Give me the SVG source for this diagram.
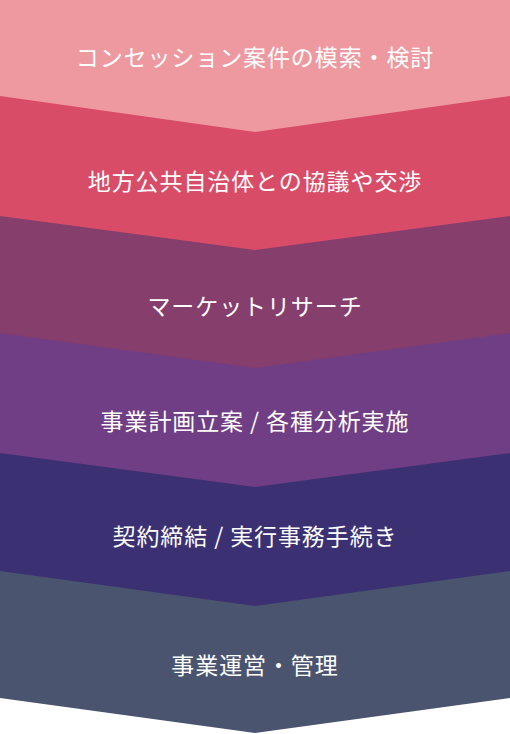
<svg xmlns="http://www.w3.org/2000/svg" width="510" height="734" viewBox="0 0 510 734">
<style>
  .label { font-family: "Noto Sans CJK JP", "Noto Sans", sans-serif; font-size: 23px; fill: #ffffff; text-anchor: middle; letter-spacing: 0.9px; }
</style>
<rect width="510" height="734" fill="#ffffff"/>
<g id="step6">
  <polygon points="0,570 510,570 510,698 255,733 0,698" fill="#4a546e"/>
  <text class="label" x="255" y="674">事業運営・管理</text>
</g>
<g id="step5">
  <polygon points="0,452 510,452 510,571 255,606 0,571" fill="#3b3172"/>
  <text class="label" x="255" y="545">契約締結 / 実行事務手続き</text>
</g>
<g id="step4">
  <polygon points="0,333 510,333 510,453 255,487 0,453" fill="#703e84"/>
  <text class="label" x="255" y="430">事業計画立案 / 各種分析実施</text>
</g>
<g id="step3">
  <polygon points="0,215 510,215 510,333 255,368 0,333" fill="#863e6c"/>
  <text class="label" x="255" y="315">マーケットリサーチ</text>
</g>
<g id="step2">
  <polygon points="0,96 510,96 510,216 255,250 0,216" fill="#d94c68"/>
  <text class="label" x="255" y="190">地方公共自治体との協議や交渉</text>
</g>
<g id="step1">
  <polygon points="0,0 510,0 510,96 255,132 0,96" fill="#ee999f"/>
  <text class="label" x="255" y="65.5">コンセッション案件の模索・検討</text>
</g>
</svg>
